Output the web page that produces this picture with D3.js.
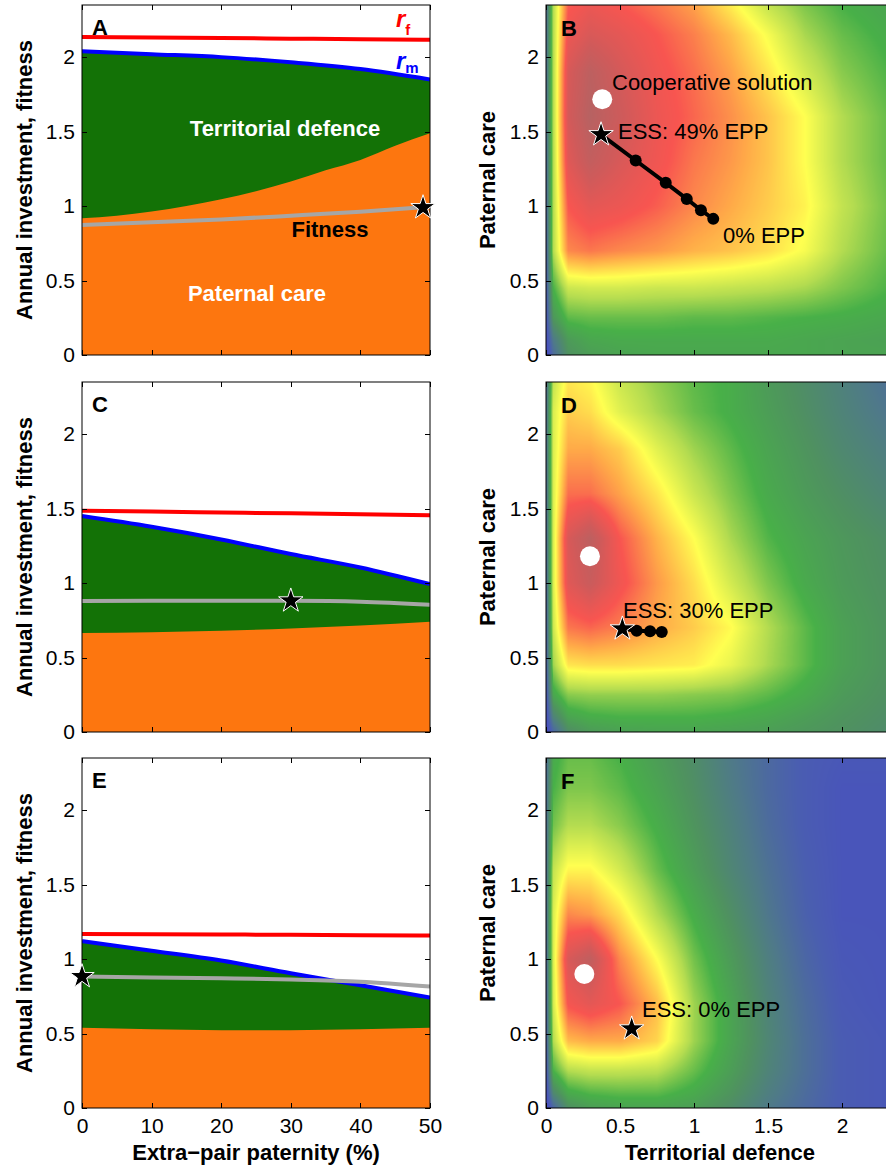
<!DOCTYPE html>
<html lang="en">
<head>
<meta charset="UTF-8">
<title>Paternal care, territorial defence and EPP</title>
<script src="https://cdn.jsdelivr.net/npm/d3@7"></script>
<style>
  body { margin: 0; background: #fff; }
  svg { font-family: "Liberation Sans", Arial, Helvetica, sans-serif; }
  .axis path { display: none; }
  .axis line { stroke: #000; shape-rendering: crispEdges; }
  .axis text { font-size: 21px; fill: #000; }
  .lbl { font-size: 22px; font-weight: bold; }
</style>
</head>
<body>
<script>
// ---- left panels: investment vs extra-pair paternity ----
var epp  = [0, 10, 20, 30, 40, 50];
var eppA = [0, 5, 10, 15, 20, 25, 30, 35, 40, 45, 50];   // finer, for the curved care line in A

var rfA   = [2.135, 2.131, 2.128, 2.124, 2.12, 2.117];
var rmA   = [2.04, 2.02, 2.0, 1.965, 1.92, 1.85];
var fitA  = [0.873, 0.891, 0.91, 0.935, 0.962, 0.995];
var careA = [0.918, 0.935, 0.963, 1.0, 1.045, 1.1, 1.165, 1.24, 1.31, 1.405, 1.489];

var rfC   = [1.485, 1.48, 1.474, 1.468, 1.462, 1.456];
var rmC   = [1.45, 1.378, 1.293, 1.195, 1.105, 0.993];
var fitC  = [0.879, 0.881, 0.882, 0.881, 0.875, 0.855];
var careC = [0.665, 0.67, 0.68, 0.695, 0.715, 0.74];

var rfE   = [1.169, 1.167, 1.165, 1.163, 1.16, 1.158];
var rmE   = [1.12, 1.056, 0.99, 0.905, 0.824, 0.741];
var fitE  = [0.883, 0.877, 0.871, 0.863, 0.848, 0.815];
var careE = [0.538, 0.528, 0.522, 0.522, 0.528, 0.538];

var essEPP = [49, 30, 0];
var essFit = [0.99, 0.881, 0.883];

// ---- right panels: fitness landscape (colour level 0..10) ----
var gridDef  = [0, 0.05, 0.15, 0.3, 0.5, 0.75, 1.0, 1.25, 1.5, 1.75, 2.0, 2.35];
var gridCare = [0, 0.1, 0.25, 0.45, 0.7, 1.0, 1.3, 1.6, 1.9, 2.15, 2.35];   // rows, bottom to top

var fieldB = [
  [0.0, 1.5, 3.0, 3.4, 3.6, 3.7, 3.7, 3.7, 3.7, 3.7, 3.6, 3.6],
  [0.3, 2.0, 3.3, 3.7, 3.8, 3.8, 3.8, 3.8, 3.8, 3.7, 3.6, 3.5],
  [0.6, 3.2, 4.2, 4.3, 4.3, 4.3, 4.2, 4.2, 4.1, 4.0, 3.9, 3.7],
  [0.8, 4.0, 5.3, 5.4, 5.4, 5.3, 5.3, 5.2, 5.1, 4.9, 4.5, 4.0],
  [1.0, 5.0, 7.4, 7.6, 7.4, 7.2, 6.9, 6.7, 6.4, 5.9, 5.0, 4.2],
  [1.2, 5.0, 8.0, 8.5, 8.3, 7.9, 7.4, 7.0, 6.6, 6.15, 5.2, 4.3],
  [1.3, 5.0, 8.6, 9.4, 8.8, 8.2, 7.6, 7.2, 6.7, 6.0, 5.0, 4.2],
  [1.5, 5.0, 8.9, 9.8, 9.1, 8.3, 7.8, 7.3, 6.7, 6.0, 5.0, 4.2],
  [1.5, 5.0, 8.8, 9.6, 8.9, 8.2, 7.7, 7.1, 6.3, 5.4, 4.6, 4.0],
  [1.5, 5.0, 8.3, 8.8, 8.5, 8.0, 7.5, 6.8, 5.9, 4.9, 4.3, 3.8],
  [1.5, 5.0, 7.9, 8.3, 8.0, 7.6, 7.1, 6.2, 5.2, 4.5, 4.0, 3.6]
];
var fieldD = [
  [0.0, 1.3, 2.8, 3.3, 3.5, 3.6, 3.6, 3.5, 3.4, 3.2, 3.0, 2.7],
  [0.3, 2.4, 3.6, 3.9, 4.0, 4.0, 4.0, 3.9, 3.7, 3.4, 3.1, 2.8],
  [0.6, 3.7, 4.6, 4.7, 4.7, 4.7, 4.6, 4.5, 4.2, 3.8, 3.3, 2.9],
  [0.9, 4.8, 6.3, 6.4, 6.4, 6.3, 6.2, 5.7, 4.9, 4.2, 3.5, 3.0],
  [1.0, 5.3, 7.6, 7.8, 7.5, 7.0, 6.6, 6.05, 5.0, 4.2, 3.5, 3.0],
  [1.2, 5.5, 8.6, 9.2, 8.2, 7.2, 6.4, 5.4, 4.5, 3.8, 3.3, 2.9],
  [1.3, 5.5, 8.8, 9.6, 8.0, 6.9, 6.0, 4.9, 4.1, 3.6, 3.2, 2.8],
  [1.4, 5.5, 7.7, 7.7, 7.1, 6.3, 5.3, 4.5, 3.8, 3.3, 2.9, 2.4],
  [1.5, 5.5, 7.0, 7.0, 6.6, 5.6, 4.8, 4.2, 3.6, 3.1, 2.6, 2.1],
  [1.5, 5.5, 6.6, 6.4, 5.6, 4.9, 4.3, 3.9, 3.4, 2.9, 2.4, 1.8],
  [1.5, 5.2, 6.3, 6.1, 5.3, 4.7, 4.2, 3.9, 3.3, 2.8, 2.3, 1.6]
];
var fieldF = [
  [0.0, 1.3, 2.9, 3.4, 3.6, 3.6, 3.4, 2.8, 2.0, 1.4, 0.9, 0.7],
  [0.3, 2.6, 3.8, 4.1, 4.2, 4.2, 3.8, 3.1, 2.2, 1.5, 0.9, 0.7],
  [0.6, 4.0, 5.0, 5.2, 5.2, 5.1, 4.3, 3.4, 2.4, 1.6, 0.9, 0.7],
  [0.9, 5.0, 6.8, 7.0, 7.0, 6.5, 4.8, 3.6, 2.5, 1.6, 0.9, 0.7],
  [1.0, 5.4, 8.1, 8.5, 8.0, 6.8, 4.8, 3.6, 2.4, 1.5, 0.8, 0.6],
  [1.2, 5.5, 8.8, 9.5, 7.4, 6.0, 4.4, 3.3, 2.2, 1.3, 0.7, 0.6],
  [1.4, 5.5, 7.4, 7.2, 6.4, 5.0, 3.9, 2.9, 1.9, 1.1, 0.6, 0.6],
  [1.5, 5.2, 6.1, 6.1, 5.4, 4.3, 3.4, 2.5, 1.7, 1.0, 0.6, 0.6],
  [1.5, 4.4, 5.0, 5.0, 4.6, 3.9, 3.1, 2.3, 1.5, 0.9, 0.6, 0.6],
  [1.5, 4.0, 4.5, 4.5, 4.2, 3.6, 2.9, 2.1, 1.4, 0.9, 0.6, 0.6],
  [1.5, 3.8, 4.3, 4.3, 4.0, 3.4, 2.8, 2.0, 1.4, 0.9, 0.7, 0.7]
];

var levelStops  = [0, 1, 2, 3, 4, 5, 6, 7, 8, 9, 10];
var levelColors = ["#4848c8", "#4a5eb0", "#4f7a88", "#4f9160", "#48b048", "#b4dc50",
                   "#ffff50", "#ffaa48", "#f85550", "#d05a5a", "#b06464"];

// trajectories of the ESS and the cooperative solution
var trajB_def = [0.372, 0.606, 0.809, 0.951, 1.047, 1.13];
var trajB_care = [1.48, 1.306, 1.156, 1.048, 0.972, 0.914];
var trajD_def = [0.516, 0.613, 0.703, 0.782];
var trajD_care = [0.693, 0.68, 0.676, 0.672];
var trajF_def = [0.579];
var trajF_care = [0.532];
var coopDef  = [0.38, 0.297, 0.259];
var coopCare = [1.717, 1.18, 0.90];

var yTicks = [0, 0.5, 1, 1.5, 2];
var xTicksL = [0, 10, 20, 30, 40, 50];
var xTicksR = [0, 0.5, 1, 1.5, 2];

// ---- layout ----
var width = 886, height = 1169;
var tops = [5, 382, 758], ph = 350;
var xL = d3.scaleLinear().domain([0, 50]).range([82, 430]);
var xR = d3.scaleLinear().domain([0, 2.35]).range([546, 546 + 2.35 * 148]);
function yScale(top) { return d3.scaleLinear().domain([0, 2.35]).range([top + ph, top]); }

var svg = d3.select("body").append("svg").attr("width", width).attr("height", height);
var fmt = function(d) { return String(d); };
var star = d3.symbol().type(d3.symbolStar).size(185);

function axes(x, y, top, showX) {
  var x0 = x.range()[0], x1 = x.range()[1], xt = x === xL ? xTicksL : xTicksR;
  var g = svg.append("g");
  g.append("g").attr("class", "axis").attr("transform", "translate(" + x0 + ",0)")
    .call(d3.axisLeft(y).tickValues(yTicks).tickSizeInner(-5).tickSizeOuter(0).tickPadding(7).tickFormat(fmt));
  g.append("g").attr("class", "axis").attr("transform", "translate(" + x1 + ",0)")
    .call(d3.axisRight(y).tickValues(yTicks).tickSizeInner(-5).tickSizeOuter(0).tickFormat(""));
  g.append("g").attr("class", "axis").attr("transform", "translate(0," + top + ")")
    .call(d3.axisTop(x).tickValues(xt).tickSizeInner(-5).tickSizeOuter(0).tickFormat(""));
  g.append("g").attr("class", "axis").attr("transform", "translate(0," + (top + ph) + ")")
    .call(d3.axisBottom(x).tickValues(xt).tickSizeInner(-5).tickSizeOuter(0).tickPadding(10)
      .tickFormat(showX ? fmt : ""));
  g.append("rect").attr("x", x0).attr("y", top).attr("width", x1 - x0).attr("height", ph)
    .attr("fill", "none").attr("stroke", "#000").attr("stroke-width", 1);
}

// ---- left panels ----
var left = [
  {letter: "A", rf: rfA, rm: rmA, fit: fitA, care: careA, careX: eppA},
  {letter: "C", rf: rfC, rm: rmC, fit: fitC, care: careC, careX: epp},
  {letter: "E", rf: rfE, rm: rmE, fit: fitE, care: careE, careX: epp}
];

left.forEach(function(p, k) {
  var top = tops[k], y = yScale(top);
  var clipId = "clipL" + k;
  svg.append("clipPath").attr("id", clipId).append("rect")
    .attr("x", xL(0)).attr("y", top).attr("width", xL(50) - xL(0)).attr("height", ph);
  var g = svg.append("g").attr("clip-path", "url(#" + clipId + ")");

  var area = function(xs) {
    return d3.area().x(function(d, i) { return xL(xs[i]); })
      .y0(y(0)).y1(function(d) { return y(d); }).curve(d3.curveMonotoneX);
  };
  var line = function(xs) {
    return d3.line().x(function(d, i) { return xL(xs[i]); })
      .y(function(d) { return y(d); }).curve(d3.curveMonotoneX);
  };
  g.append("path").datum(p.rm).attr("d", area(epp)).attr("fill", "#137206");
  g.append("path").datum(p.care).attr("d", area(p.careX)).attr("fill", "#fd760f");
  g.append("path").datum(p.rf).attr("d", line(epp)).attr("fill", "none").attr("stroke", "#ff0000").attr("stroke-width", 4);
  g.append("path").datum(p.rm).attr("d", line(epp)).attr("fill", "none").attr("stroke", "#0000ff").attr("stroke-width", 4);
  g.append("path").datum(p.fit).attr("d", line(epp)).attr("fill", "none").attr("stroke", "#a6a6a6").attr("stroke-width", 4);

  axes(xL, y, top, k === 2);

  svg.append("path").attr("d", star)
    .attr("transform", "translate(" + xL(essEPP[k]) + "," + y(essFit[k]) + ")")
    .attr("fill", "#000").attr("stroke", "#fff").attr("stroke-width", 1);

  svg.append("text").attr("class", "lbl").attr("x", 92).attr("y", top + 30).text(p.letter);
  svg.append("text").attr("class", "lbl")
    .attr("transform", "translate(32," + (top + ph / 2) + ") rotate(-90)")
    .attr("text-anchor", "middle").text("Annual investment, fitness");
});

// labels inside A
var rf = svg.append("text").attr("x", 396).attr("y", 27).attr("fill", "#ff0000")
  .attr("font-weight", "bold").attr("font-style", "italic").attr("font-size", 24).text("r");
rf.append("tspan").attr("font-style", "normal").attr("font-size", 15).attr("dy", 8).text("f");
var rm = svg.append("text").attr("x", 396).attr("y", 69).attr("fill", "#0000ff")
  .attr("font-weight", "bold").attr("font-style", "italic").attr("font-size", 24).text("r");
rm.append("tspan").attr("font-style", "normal").attr("font-size", 15).attr("dy", 4).text("m");
svg.append("text").attr("class", "lbl").attr("fill", "#fff").attr("text-anchor", "middle")
  .attr("x", 285).attr("y", 136).text("Territorial defence");
svg.append("text").attr("class", "lbl").attr("fill", "#000").attr("text-anchor", "middle")
  .attr("x", 330).attr("y", 237).text("Fitness");
svg.append("text").attr("class", "lbl").attr("fill", "#fff").attr("text-anchor", "middle")
  .attr("x", 257).attr("y", 301).text("Paternal care");

svg.append("text").attr("class", "lbl").attr("text-anchor", "middle")
  .attr("x", (xL(0) + xL(50)) / 2).attr("y", 1160).text("Extra\u2212pair paternity (%)");

// ---- right panels: fitness landscapes ----
var lutN = 1000;
var colorOf = d3.scaleLinear().domain(levelStops).range(levelColors).clamp(true);
var lut = d3.range(lutN + 1).map(function(i) { return d3.rgb(colorOf(i / lutN * 10)); });

function cell(arr, v) {
  var i = Math.max(0, Math.min(arr.length - 2, d3.bisectRight(arr, v) - 1));
  var t = (v - arr[i]) / (arr[i + 1] - arr[i]);
  return [i, Math.max(0, Math.min(1, t))];
}

function landscape(field, top) {
  var y = yScale(top);
  var w = Math.ceil(xR.range()[1] - xR.range()[0]), h = ph;
  var canvas = document.createElement("canvas");
  canvas.width = w; canvas.height = h;
  var ctx = canvas.getContext("2d");
  var img = ctx.createImageData(w, h);
  for (var j = 0; j < h; j++) {
    var cy = cell(gridCare, y.invert(top + j + 0.5));
    for (var i = 0; i < w; i++) {
      var cx = cell(gridDef, xR.invert(xR.range()[0] + i + 0.5));
      var r0 = field[cy[0]], r1 = field[cy[0] + 1];
      var a = r0[cx[0]] * (1 - cx[1]) + r0[cx[0] + 1] * cx[1];
      var b = r1[cx[0]] * (1 - cx[1]) + r1[cx[0] + 1] * cx[1];
      var v = a * (1 - cy[1]) + b * cy[1];
      var c = lut[Math.round(Math.max(0, Math.min(10, v)) / 10 * lutN)];
      var o = (j * w + i) * 4;
      img.data[o] = c.r; img.data[o + 1] = c.g; img.data[o + 2] = c.b; img.data[o + 3] = 255;
    }
  }
  ctx.putImageData(img, 0, 0);
  svg.append("image").attr("x", xR.range()[0]).attr("y", top).attr("width", w).attr("height", h)
    .attr("preserveAspectRatio", "none").attr("href", canvas.toDataURL());
}

var right = [
  {letter: "B", field: fieldB, def: trajB_def, care: trajB_care},
  {letter: "D", field: fieldD, def: trajD_def, care: trajD_care},
  {letter: "F", field: fieldF, def: trajF_def, care: trajF_care}
];

right.forEach(function(p, k) {
  var top = tops[k], y = yScale(top);
  landscape(p.field, top);
  axes(xR, y, top, k === 2);

  var pts = p.def.map(function(d, i) { return [xR(d), y(p.care[i])]; });
  if (pts.length > 1) {
    svg.append("path").attr("d", d3.line()(pts)).attr("fill", "none")
      .attr("stroke", "#000").attr("stroke-width", 4);
    svg.selectAll(null).data(pts.slice(1)).enter().append("circle")
      .attr("cx", function(d) { return d[0]; }).attr("cy", function(d) { return d[1]; })
      .attr("r", 6).attr("fill", "#000");
  }
  svg.append("circle").attr("cx", xR(coopDef[k])).attr("cy", y(coopCare[k])).attr("r", 10).attr("fill", "#fff");
  svg.append("path").attr("d", star).attr("transform", "translate(" + pts[0][0] + "," + pts[0][1] + ")")
    .attr("fill", "#000").attr("stroke", "#fff").attr("stroke-width", 1);

  svg.append("text").attr("class", "lbl").attr("x", 561).attr("y", top + 31).text(p.letter);
  svg.append("text").attr("class", "lbl")
    .attr("transform", "translate(495," + (top + ph / 2) + ") rotate(-90)")
    .attr("text-anchor", "middle").text("Paternal care");
});

var note = function(x, yy, s) {
  svg.append("text").attr("x", x).attr("y", yy).attr("font-size", 22).attr("fill", "#000").text(s);
};
note(612, 90, "Cooperative solution");
note(618, 139, "ESS: 49% EPP");
note(723, 243, "0% EPP");
note(623, 618, "ESS: 30% EPP");
note(642, 1017, "ESS: 0% EPP");

svg.append("text").attr("class", "lbl").attr("text-anchor", "middle")
  .attr("x", (xR.range()[0] + xR.range()[1]) / 2).attr("y", 1160).text("Territorial defence");
</script>
</body>
</html>
